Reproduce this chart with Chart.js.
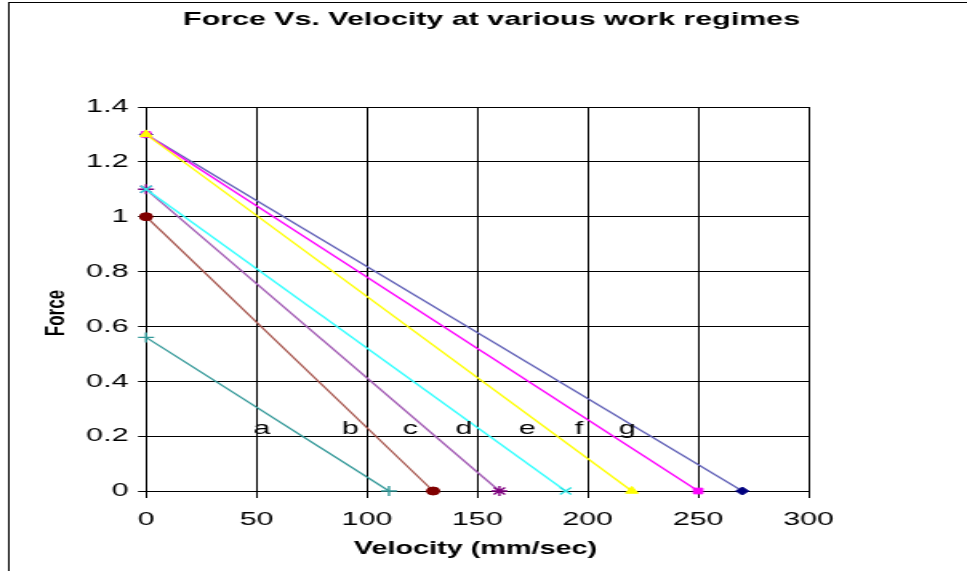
<!DOCTYPE html>
<html>
<head>
<meta charset="utf-8">
<script src="https://cdn.jsdelivr.net/npm/chart.js@4/dist/chart.umd.min.js"></script>
<style>
  html, body { margin: 0; padding: 0; background: #fff; }
</style>
</head>
<body>
<!-- the reference picture is stretched sideways, so the canvas is drawn narrow and widened -->
<canvas id="chart" width="604" height="571" style="width:967px;height:571px;display:block"></canvas>
<script>
// work regimes a..g: straight lines from (0, stall force) to (free velocity, 0)
const regimeNames = ['a', 'b', 'c', 'd', 'e', 'f', 'g'];
const stallForce = [0.56, 1.0, 1.1, 1.1, 1.3, 1.3, 1.3];
const freeVelocity = [110, 130, 160, 190, 220, 250, 270];

// where the letters sit on the plot
const labelVelocity = [52.5, 92.4, 119.6, 144, 172.6, 196, 218];
const labelForce = 0.2;

const xTickLabels = ['0', '50', '100', '150', '200', '250', '300'];
const yTickLabels = ['0', '0.2', '0.4', '0.6', '0.8', '1', '1.2', '1.4'];

const lineColors = ['#339999', '#a5524a', '#a35cb5', '#33ffff', '#ffff00', '#ff00ff', '#6262b8'];
const markerColors = ['#339999', '#800000', '#800080', '#33e6e6', '#ffff00', '#ff00ff', '#000080'];
const markerStyles = ['cross', 'circle', 'star', 'crossRot', 'triangle', 'rect', 'rectRot'];
const markerSizes = [5, 4, 5, 5, 4.5, 4, 4];
// which marker ends up on top where they share a point (lower is drawn later)
const drawOrder = [0, 1, 3, 2, 4, 5, 6];

const font = "'Liberation Sans', Arial, sans-serif";

const datasets = regimeNames.map((name, i) => ({
    label: name,
    data: [{ x: 0, y: stallForce[i] }, { x: freeVelocity[i], y: 0 }],
    showLine: true,
    order: drawOrder[i],
    borderColor: lineColors[i],
    borderWidth: 1.3,
    pointStyle: markerStyles[i],
    pointRadius: markerSizes[i],
    pointBorderWidth: (markerStyles[i] === 'cross' || markerStyles[i] === 'crossRot' || markerStyles[i] === 'star') ? 1.4 : 1,
    pointBackgroundColor: markerColors[i],
    pointBorderColor: markerColors[i],
    clip: false
}));

const decorations = {
    id: 'decorations',
    beforeDraw(chart) {
        const ctx = chart.ctx;
        ctx.save();
        ctx.fillStyle = '#fff';
        ctx.fillRect(0, 0, chart.width, chart.height);
        ctx.strokeStyle = '#000';
        ctx.lineWidth = 1;
        ctx.strokeRect(5.5, 2.5, chart.width + 10, chart.height + 10);
        ctx.restore();
    },
    afterDatasetsDraw(chart) {
        const ctx = chart.ctx;
        const xs = chart.scales.x, ys = chart.scales.y;
        ctx.save();
        ctx.fillStyle = '#000';
        ctx.font = '19px ' + font;
        ctx.textAlign = 'center';
        ctx.textBaseline = 'alphabetic';
        regimeNames.forEach((name, i) => {
            ctx.fillText(name, xs.getPixelForValue(labelVelocity[i]), ys.getPixelForValue(labelForce) - 2);
        });
        ctx.restore();
    },
    afterDraw(chart) {
        const ctx = chart.ctx;
        ctx.save();
        ctx.fillStyle = '#000';
        ctx.textAlign = 'center';
        ctx.textBaseline = 'middle';
        ctx.font = 'bold 19px ' + font;
        ctx.fillText('Force Vs. Velocity at various work regimes', 307, 20);
        ctx.font = 'bold 18px ' + font;
        ctx.fillText('Velocity (mm/sec)', 297, 549);
        ctx.translate(35.5, 313);
        ctx.rotate(-Math.PI / 2);
        ctx.font = 'bold 17px ' + font;
        ctx.fillText('Force', 0, 0);
        ctx.restore();
    }
};

new Chart(document.getElementById('chart'), {
    type: 'scatter',
    data: { datasets },
    options: {
        responsive: false,
        animation: false,
        devicePixelRatio: 1,
        layout: { padding: { top: 107, right: 99, left: 0, bottom: 0 } },
        plugins: {
            legend: { display: false },
            title: { display: false },
            tooltip: { enabled: false }
        },
        scales: {
            x: {
                type: 'linear',
                min: 0,
                max: 300,
                afterFit: s => { s.height = 80; },
                afterBuildTicks: s => { s.ticks = xTickLabels.map(t => ({ value: +t })); },
                grid: { color: '#000', lineWidth: 1, tickLength: 7, tickColor: '#000' },
                border: { color: '#000', width: 1 },
                ticks: {
                    color: '#000',
                    padding: 10,
                    font: { size: 19, family: font },
                    callback: (v, i) => xTickLabels[i]
                }
            },
            y: {
                type: 'linear',
                min: 0,
                max: 1.4,
                afterFit: s => { s.width = 91.25; },
                afterBuildTicks: s => { s.ticks = yTickLabels.map(t => ({ value: +t })); },
                grid: { color: '#000', lineWidth: 1, tickLength: 5, tickColor: '#000' },
                border: { color: '#000', width: 1 },
                ticks: {
                    color: '#000',
                    padding: 6,
                    font: { size: 19, family: font },
                    callback: (v, i) => yTickLabels[i]
                }
            }
        }
    },
    plugins: [decorations]
});
</script>
</body>
</html>
